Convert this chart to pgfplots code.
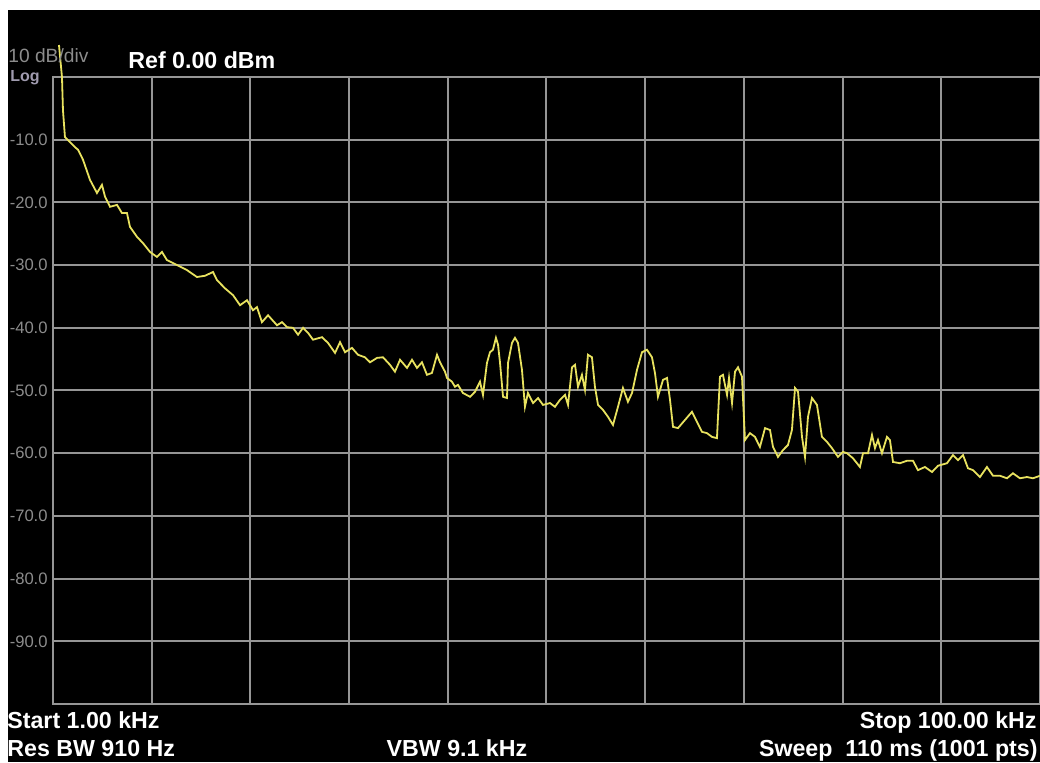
\documentclass[border=0pt]{standalone}
\usepackage{pgfplots}
\pgfplotsset{compat=1.18}
\usepackage{fontspec}
\setmainfont{Liberation Sans}
\definecolor{gridgray}{RGB}{150,150,150}
\definecolor{labgray}{RGB}{140,140,140}
\definecolor{trace}{RGB}{232,226,95}
\definecolor{loggray}{RGB}{160,155,175}
\begin{document}
\begin{tikzpicture}
\useasboundingbox (0,0) rectangle (520pt,381pt);
\fill[white] (0,0) rectangle (520pt,381pt);
\fill[black] (4pt,0) rectangle (520pt,376pt);
\begin{axis}[
  at={(26.5pt,29pt)}, anchor=south west,
  width=493.5pt, height=313.5pt, scale only axis,
  xmin=1, xmax=100, ymin=-100, ymax=0,
  xtick={10.9,20.8,30.7,40.6,50.5,60.4,70.3,80.2,90.1},
  xticklabels={},
  ytick={-90,-80,-70,-60,-50,-40,-30,-20,-10},
  yticklabels={-90.0,-80.0,-70.0,-60.0,-50.0,-40.0,-30.0,-20.0,-10.0},
  grid=major,
  major grid style={gridgray, line width=1pt},
  axis line style={gridgray, line width=1pt},
  major tick length=0pt,
  yticklabel style={font=\fontsize{8.3pt}{9pt}\selectfont, text=labgray, inner sep=0pt, xshift=-2.5pt},
  clip=false,
]
\addplot[trace, line width=0.9pt] coordinates {
(1.60,5.1) (1.90,0) (2.00,-5.3) (2.20,-9.6) (2.71,-10.4) (3.21,-11.2) (3.51,-11.6)
(4.01,-13.2) (4.71,-16.4) (5.41,-18.5) (5.91,-17.2) (6.22,-19.1) (6.72,-20.7)
(7.42,-20.4) (7.92,-21.7) (8.42,-21.7) (8.72,-23.9) (9.43,-25.5) (10.03,-26.5)
(10.73,-27.9) (11.43,-28.7) (11.93,-27.9) (12.43,-29.2) (13.44,-30.0) (14.44,-30.8)
(15.44,-31.9) (16.25,-31.7) (17.05,-31.1) (17.45,-32.4) (18.25,-33.7) (19.06,-34.8)
(19.76,-36.4) (20.46,-35.6) (21.06,-37.2) (21.46,-36.7) (21.96,-39.1) (22.57,-38.0)
(23.47,-39.6) (23.97,-39.1) (24.47,-39.9) (25.07,-40.0) (25.58,-41.1) (26.08,-40.0)
(26.58,-40.8) (27.08,-41.9) (27.98,-41.5) (28.58,-42.4) (29.29,-44.0) (29.79,-42.3)
(30.29,-43.9) (30.99,-43.2) (31.59,-44.3) (32.29,-44.7) (32.80,-45.5) (33.50,-44.8)
(34.10,-44.7) (34.80,-45.9) (35.30,-47.0) (35.81,-45.1) (36.51,-46.4) (37.01,-45.1)
(37.51,-46.4) (38.01,-45.5) (38.51,-47.5) (39.01,-47.2) (39.52,-44.3) (39.82,-45.5)
(40.32,-47.0) (40.52,-48.0) (41.02,-48.6) (41.32,-49.4) (41.62,-49.1) (42.12,-50.4)
(42.83,-51.0) (43.33,-50.2) (43.83,-48.6) (44.13,-50.7) (44.53,-45.6) (44.83,-43.9)
(45.13,-43.5) (45.43,-41.6) (45.64,-42.7) (45.84,-45.6) (46.14,-51.0) (46.54,-51.2)
(46.64,-45.6) (47.04,-42.4) (47.34,-41.6) (47.64,-42.4) (48.04,-46.7) (48.34,-52.6)
(48.64,-50.4) (49.15,-52.0) (49.65,-51.2) (50.15,-52.3) (50.85,-52.0) (51.35,-52.6)
(51.85,-51.5) (52.36,-50.7) (52.66,-52.3) (53.06,-46.3) (53.36,-45.9) (53.66,-49.4)
(54.06,-47.5) (54.36,-49.9) (54.66,-44.3) (55.06,-44.7) (55.36,-49.4) (55.67,-52.3)
(56.17,-53.1) (56.67,-54.2) (57.17,-55.5) (57.67,-52.6) (58.17,-49.6) (58.67,-51.8)
(59.08,-50.4) (59.58,-46.7) (60.08,-43.9) (60.58,-43.5) (61.08,-44.7) (61.38,-47.2)
(61.68,-51.0) (62.19,-48.3) (62.59,-48.0) (62.89,-51.5) (63.19,-55.8) (63.69,-56.0)
(64.39,-54.7) (65.09,-53.4) (65.60,-55.0) (66.10,-56.6) (66.60,-56.8) (67.10,-57.4)
(67.60,-57.6) (67.90,-47.8) (68.20,-47.5) (68.61,-50.7) (68.81,-48.0) (69.11,-52.0)
(69.41,-47.0) (69.71,-46.3) (70.11,-47.8) (70.41,-57.9) (70.91,-56.8) (71.41,-57.4)
(71.91,-59.0) (72.42,-56.0) (72.92,-56.3) (73.22,-59.0) (73.72,-60.6) (74.22,-59.5)
(74.72,-58.7) (75.12,-56.3) (75.43,-49.6) (75.73,-50.2) (76.13,-57.4) (76.43,-60.6)
(76.73,-54.2) (77.13,-51.2) (77.63,-52.3) (78.13,-57.4) (78.64,-58.2) (79.14,-59.2)
(79.74,-60.6) (80.24,-59.8) (80.64,-60.0) (81.24,-60.8) (81.94,-62.2) (82.25,-60.0)
(82.75,-60.0) (83.15,-57.1) (83.45,-59.2) (83.75,-57.9) (84.15,-60.0) (84.65,-57.4)
(84.95,-57.9) (85.26,-61.4) (85.96,-61.6) (86.66,-61.2) (87.26,-61.2) (87.76,-62.7)
(88.46,-62.2) (89.17,-63.0) (89.77,-62.0) (90.67,-61.6) (91.27,-60.3) (91.77,-61.1)
(92.28,-60.3) (92.78,-62.4) (93.28,-62.7) (93.98,-63.8) (94.68,-62.2) (95.29,-63.6)
(95.99,-63.6) (96.69,-64.0) (97.29,-63.2) (97.99,-64.0) (98.70,-63.8) (99.30,-64.0)
(100.0,-63.6)
};
\end{axis}
\node[anchor=base west, inner sep=0pt, text=labgray, font=\fontsize{9.6pt}{10pt}\selectfont] at (4pt,349.5pt) {10 dB/div};
\node[anchor=base west, inner sep=0pt, text=loggray, font=\fontsize{8pt}{9pt}\selectfont\bfseries] at (5pt,340pt) {Log};
\node[anchor=west, inner sep=0pt, text=white, font=\fontsize{11.6pt}{12pt}\selectfont\bfseries] at (64pt,351pt) {Ref 0.00 dBm};
\node[anchor=base west, inner sep=0pt, text=white, font=\fontsize{11.6pt}{12pt}\selectfont\bfseries] at (3.5pt,17pt) {Start 1.00 kHz};
\node[anchor=base west, inner sep=0pt, text=white, font=\fontsize{11.6pt}{12pt}\selectfont\bfseries] at (3.5pt,3pt) {Res BW 910 Hz};
\node[anchor=base, inner sep=0pt, text=white, font=\fontsize{11.6pt}{12pt}\selectfont\bfseries] at (228.5pt,3pt) {VBW 9.1 kHz};
\node[anchor=base east, inner sep=0pt, text=white, font=\fontsize{11.6pt}{12pt}\selectfont\bfseries] at (518.5pt,17pt) {Stop 100.00 kHz};
\node[anchor=base east, inner sep=0pt, text=white, font=\fontsize{11.6pt}{12pt}\selectfont\bfseries] at (519pt,3pt) {Sweep\ \ 110 ms (1001 pts)};
\end{tikzpicture}
\end{document}
